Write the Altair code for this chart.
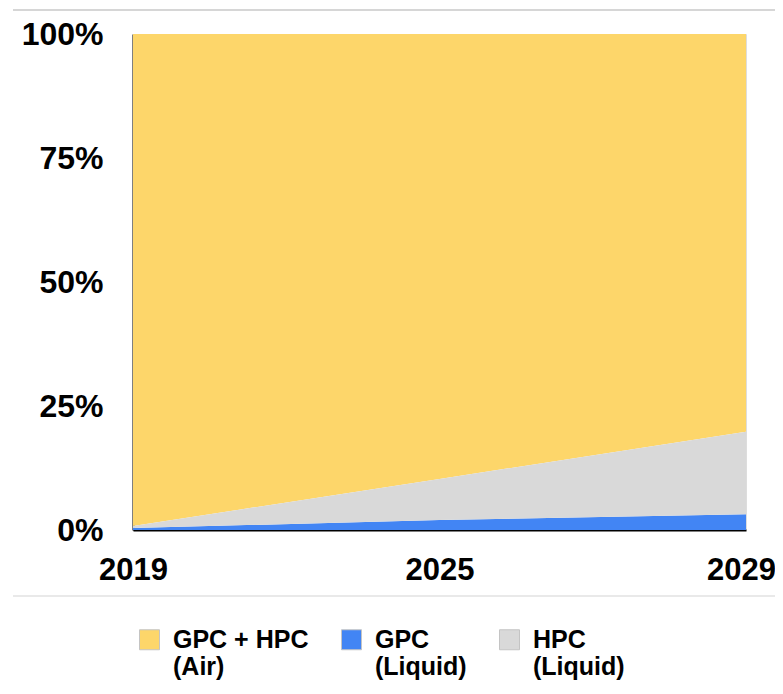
import altair as alt
import pandas as pd

years = ["2019", "2025", "2029"]
series = ["GPC + HPC (Air)", "GPC (Liquid)", "HPC (Liquid)"]
air = [99.2, 89.7, 80.2]
gpc_liquid = [0.4, 2.0, 3.2]
hpc_liquid = [0.4, 8.3, 16.6]
stack_rank = {"GPC (Liquid)": 0, "HPC (Liquid)": 1, "GPC + HPC (Air)": 2}
colors = ["#FDD66A", "#4285F4", "#D9D9D9"]

rows = []
for name, vals in zip(series, [air, gpc_liquid, hpc_liquid]):
    for y, v in zip(years, vals):
        rows.append({"year": y, "series": name, "value": v, "rank": stack_rank[name]})
df = pd.DataFrame(rows)

FONT = "Liberation Sans"

area = alt.Chart(df).mark_area(opacity=1).encode(
    x=alt.X("year:O", scale=alt.Scale(type="point", padding=0),
            axis=alt.Axis(title=None, labelAngle=0, labelFontSize=31, labelFontWeight="bold",
                          labelColor="black", labelFont=FONT, labelPadding=25, ticks=False,
                          domainColor="black", domainWidth=2, labelOverlap=False,
                          labelOffset={"condition": {"test": "datum.value == '2029'", "value": -5},
                                       "value": 0})),
    y=alt.Y("value:Q", stack="normalize",
            axis=alt.Axis(title=None, values=[0, 0.25, 0.5, 0.75, 1], format=".0%",
                          labelFontSize=32, labelFontWeight="bold", labelColor="black",
                          labelFont=FONT, labelPadding=30, ticks=False, grid=False,
                          domainColor="black", domainWidth=2)),
    color=alt.Color("series:N", scale=alt.Scale(domain=series, range=colors),
                    legend=alt.Legend(title=None, orient="none", direction="horizontal",
                                      legendX=4, legendY=593, padding=0,
                                      symbolType="square", symbolSize=400,
                                      symbolStrokeColor="#c4c4c4", symbolStrokeWidth=1,
                                      labelFontSize=25, labelFontWeight="bold",
                                      labelColor="black", labelFont=FONT, labelLimit=0,
                                      labelOffset=11, columnPadding=30,
                                      labelExpr="[slice(datum.label, 0, indexof(datum.label, ' (')), slice(datum.label, indexof(datum.label, ' (') + 1)]")),
    order=alt.Order("rank:Q"),
)

rule_top = alt.Chart(alt.Data(values=[{}])).mark_rule(color="#c8c8c8", strokeWidth=1.5).encode(
    x=alt.value(-120), x2=alt.value(650), y=alt.value(-24)
)
rule_bottom = alt.Chart(alt.Data(values=[{}])).mark_rule(color="#e2e2e2", strokeWidth=1.5).encode(
    x=alt.value(-120), x2=alt.value(650), y=alt.value(562)
)

chart = alt.layer(area, rule_top, rule_bottom).properties(
    width=613, height=496,
    autosize=alt.AutoSizeParams(type="none"),
    padding={"left": 125, "top": 26, "right": 29, "bottom": 156},
).configure_view(stroke=None).configure(font=FONT)

chart.save("out.html", embed_options={"renderer": "svg", "actions": False})
